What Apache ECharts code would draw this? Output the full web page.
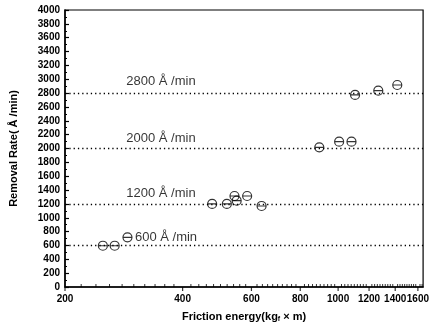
<!DOCTYPE html>
<html>
<head>
<meta charset="utf-8">
<script src="https://cdn.jsdelivr.net/npm/echarts@6/dist/echarts.min.js"></script>
<style>html,body{margin:0;padding:0;background:#fff;}#c{width:432px;height:333px;}</style>
</head>
<body>
<div id="c"></div>
<script>
// Data
const energy = [250, 268, 289, 476, 519, 543, 550, 585, 637, 895, 1006, 1082, 1105, 1267, 1417];
const rate   = [596, 596, 718, 1199, 1199, 1314, 1246, 1314, 1170, 2017, 2098, 2098, 2773, 2835, 2917];
const refRates = [600, 1200, 2000, 2800];
const refLabels = ['600 Å /min', '1200 Å /min', '2000 Å /min', '2800 Å /min'];
const refLabelX = [302, 287, 287, 287];
const refLabelOffset = [-8, -10, -10, -12];
const xMajorTicks = [200, 400, 600, 800, 1000, 1200, 1400, 1600];
const xMinorTicks = [];
for (let v = 220; v <= 1640; v += 20) if (v % 200 !== 0) xMinorTicks.push(v);
const xMin = 200, xMax = 1650;
const yMin = 0, yMax = 4000, yStep = 200;

const chart = echarts.init(document.getElementById('c'), null, {renderer: 'canvas'});
const font = 'Arial, "Liberation Sans", sans-serif';
const circleSym = 'path://M5,0A5,5,0,1,1,5,10A5,5,0,1,1,5,0ZM0,5L10,5';

const series = [{
  type: 'scatter',
  data: energy.map((x, i) => [x, rate[i]]),
  symbol: circleSym,
  symbolSize: 9,
  itemStyle: {color: 'rgba(255,255,255,0)', borderColor: '#000', borderWidth: 1.2},
  z: 5
}, {
  type: 'scatter',
  symbolSize: 0,
  data: refRates.map((r, i) => ({value: [refLabelX[i], r], label: {offset: [0, refLabelOffset[i]]}})),
  label: {
    show: true, position: 'right', distance: 0,
    formatter: p => refLabels[p.dataIndex],
    color: '#000', fontSize: 13, fontFamily: font
  },
  silent: true,
  markLine: {
    silent: true, symbol: 'none',
    lineStyle: {color: '#000', type: [1.3, 3], width: 1.3},
    label: {show: false},
    data: refRates.map(r => ({yAxis: r}))
  }
}, {
  // minor x-axis ticks (inside)
  type: 'scatter', silent: true, clip: false,
  data: xMinorTicks.map(v => [v, yMin]),
  symbol: 'rect', symbolSize: [1, 3], symbolOffset: [0, -1.5],
  itemStyle: {color: '#000'}, z: 6
}, {
  // major x-axis ticks (outside)
  type: 'scatter', silent: true, clip: false,
  data: xMajorTicks.map(v => [v, yMin]),
  symbol: 'rect', symbolSize: [1.2, 4], symbolOffset: [0, 2],
  itemStyle: {color: '#000'}, z: 6
}];

chart.setOption({
  animation: false,
  backgroundColor: '#fff',
  grid: {left: 65, right: 7, top: 10, bottom: 46, show: true, borderColor: '#000', borderWidth: 1.2, backgroundColor: 'transparent'},
  xAxis: {
    type: 'log', min: xMin, max: xMax, logBase: 10,
    name: '{b|Friction energy(kg}{s|f}{b| × m)}',
    nameLocation: 'middle', nameGap: 23,
    nameTextStyle: {rich: {
      b: {fontSize: 11, fontWeight: 'bold', fontFamily: font, color: '#000'},
      s: {fontSize: 7, fontWeight: 'bold', fontFamily: font, color: '#000', verticalAlign: 'bottom', padding: [6, 0, 0, 0]}
    }},
    axisLine: {show: true, lineStyle: {color: '#000', width: 1.5}},
    axisTick: {show: false},
    axisLabel: {show: true, customValues: xMajorTicks, color: '#000', fontSize: 10, fontWeight: 'bold', fontFamily: font, margin: 7, formatter: v => String(Math.round(v))},
    splitLine: {show: false}, minorTick: {show: false}, minorSplitLine: {show: false}
  },
  yAxis: {
    type: 'value', min: yMin, max: yMax, interval: yStep,
    name: 'Removal Rate( Å /min)', nameLocation: 'middle', nameGap: 46,
    nameTextStyle: {fontSize: 11, fontWeight: 'bold', fontFamily: font, color: '#000'},
    axisLine: {show: true, lineStyle: {color: '#000', width: 1.5}},
    axisTick: {show: true, inside: true, length: 4, lineStyle: {color: '#000', width: 1.2}},
    minorTick: {show: true, splitNumber: 2, length: 2, lineStyle: {color: '#000', width: 1}},
    axisLabel: {color: '#000', fontSize: 10, fontWeight: 'bold', fontFamily: font, margin: 5, formatter: v => String(v)},
    splitLine: {show: false}
  },
  series: series
});
</script>
</body>
</html>
